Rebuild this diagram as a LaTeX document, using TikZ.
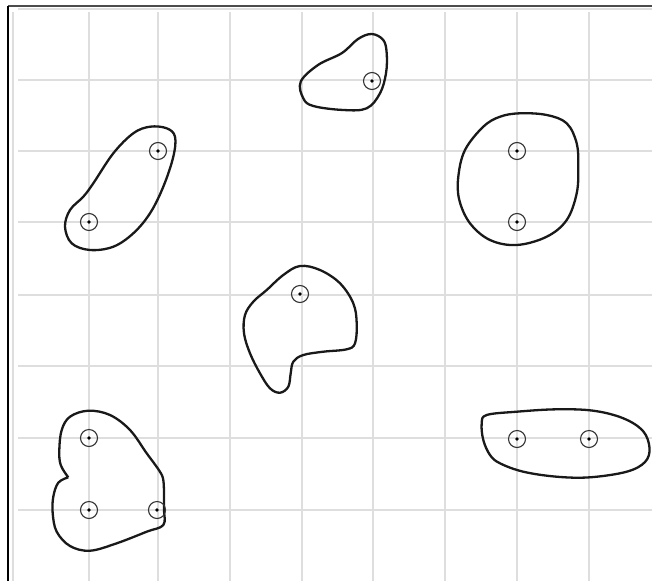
\documentclass[tikz,border=0pt]{standalone}
\usetikzlibrary{calc}
\tikzset{
  gridline/.style={draw=black!13, line width=1.3pt},
  blob/.style={draw=black!90, line width=2.3pt, line join=round},
  ringmark/.style={circle, draw=black!80, line width=1.1pt, minimum size=17pt, inner sep=0pt,
    path picture={\fill[black] (path picture bounding box.center) circle (1.8pt);}},
}
\begin{document}
\begin{tikzpicture}[x=1pt,y=-1pt]
\useasboundingbox (0,0) rectangle (652,581);
\fill[white] (0,0) rectangle (652,581);
% grid
\foreach \gx in {13,89,158,230,302,373,445,517,589}
  \draw[gridline] (\gx,12) -- (\gx,581);
\foreach \gy in {9,80,151,222,295,366,438,510}
  \draw[gridline] (18,\gy) -- (652,\gy);
% frame
\draw[draw=black!70, line width=1.6pt] (8,6) -- (652,6);
\draw[draw=black, line width=1.6pt] (8,6) -- (8,581);
% top blob
\draw[blob] plot[smooth cycle, tension=0.6] coordinates {
 (300.7,81.7) (318,65) (342,53) (358,39) (371.7,34) (383.3,40) (386.7,53.3)
 (386,73.3) (380,93.3) (366.7,108.3) (343.3,110) (313.3,106) (303.3,98.3)};
% left blob
\draw[blob] plot[smooth cycle, tension=0.6] coordinates {
 (150,126.7) (166.7,128.3) (175,136.7) (173.3,156.7) (163.3,186.7) (150,213.3)
 (133.3,233.3) (113.3,246.7) (90,250) (71.7,243.3) (65,226.7) (70,210) (83.3,196.7)
 (93.3,183.3) (113.3,153.3) (133.3,133.3)};
% right oval
\draw[blob] plot[smooth cycle, tension=0.6] coordinates {
 (520,113.3) (546.7,115) (566.7,123.3) (576.7,143.3) (578.3,166.7) (576.7,193.3)
 (566.7,220) (546.7,236.7) (516.7,245) (490,240) (470,223.3) (459.3,200) (458.3,176.7)
 (465,150) (483.3,126.7) (500,116.7)};
% middle blob
\draw[blob] plot[smooth cycle, tension=0.6] coordinates {
 (300,266) (320,270) (340,283.3) (353.3,303.3) (356.7,323.3) (355,343.3) (346.7,349.3)
 (323.3,351.7) (303.3,355) (293.3,361.7) (290.7,373.3) (288.3,386.7) (280,392.7)
 (270,388.3) (260,373.3) (250,353.3) (244,333.3) (245,315) (253.3,301.7) (266.7,290)
 (283.3,275)};
% bottom-left blob (with notch)
\draw[blob] plot[smooth, tension=0.6] coordinates {
 (68.3,477.3) (60.7,465) (59.3,450) (61.7,430) (70,416.7) (88.3,410.7) (110,415)
 (130,430) (146.7,453.3) (159.3,470.7) (163.3,480) (164,496.7) (164,510) (163.3,525)
 (146.7,531.7) (116.7,543.3) (90,550.7) (70,546) (56.7,531.7) (52.7,513.3)
 (53.3,496.7) (58.3,482.7) (68.3,477.3)};
% bottom-right blob
\draw[blob] plot[smooth cycle, tension=0.6] coordinates {
 (486.7,415) (516.7,411.7) (556.7,409.3) (593.3,410.7) (623.3,418.3) (643,431)
 (649.5,448) (645,462) (626.7,471.7) (590,477.3) (556.7,476.7) (523.3,471.7)
 (500,463.3) (490,455) (483.3,440) (481.7,423.3)};
% marks
\node[ringmark] (m1) at (372,81) {};
\node[ringmark] (m2) at (158,151) {};
\node[ringmark] (m3) at (89,222) {};
\node[ringmark] (m4) at (517,151) {};
\node[ringmark] (m5) at (517,222) {};
\node[ringmark] (m6) at (300,294) {};
\node[ringmark] (m7) at (89,438) {};
\node[ringmark] (m8) at (89,510) {};
\node[ringmark] (m9) at (157,510) {};
\node[ringmark] (m10) at (517,439) {};
\node[ringmark] (m11) at (589,439) {};
\end{tikzpicture}
\end{document}
